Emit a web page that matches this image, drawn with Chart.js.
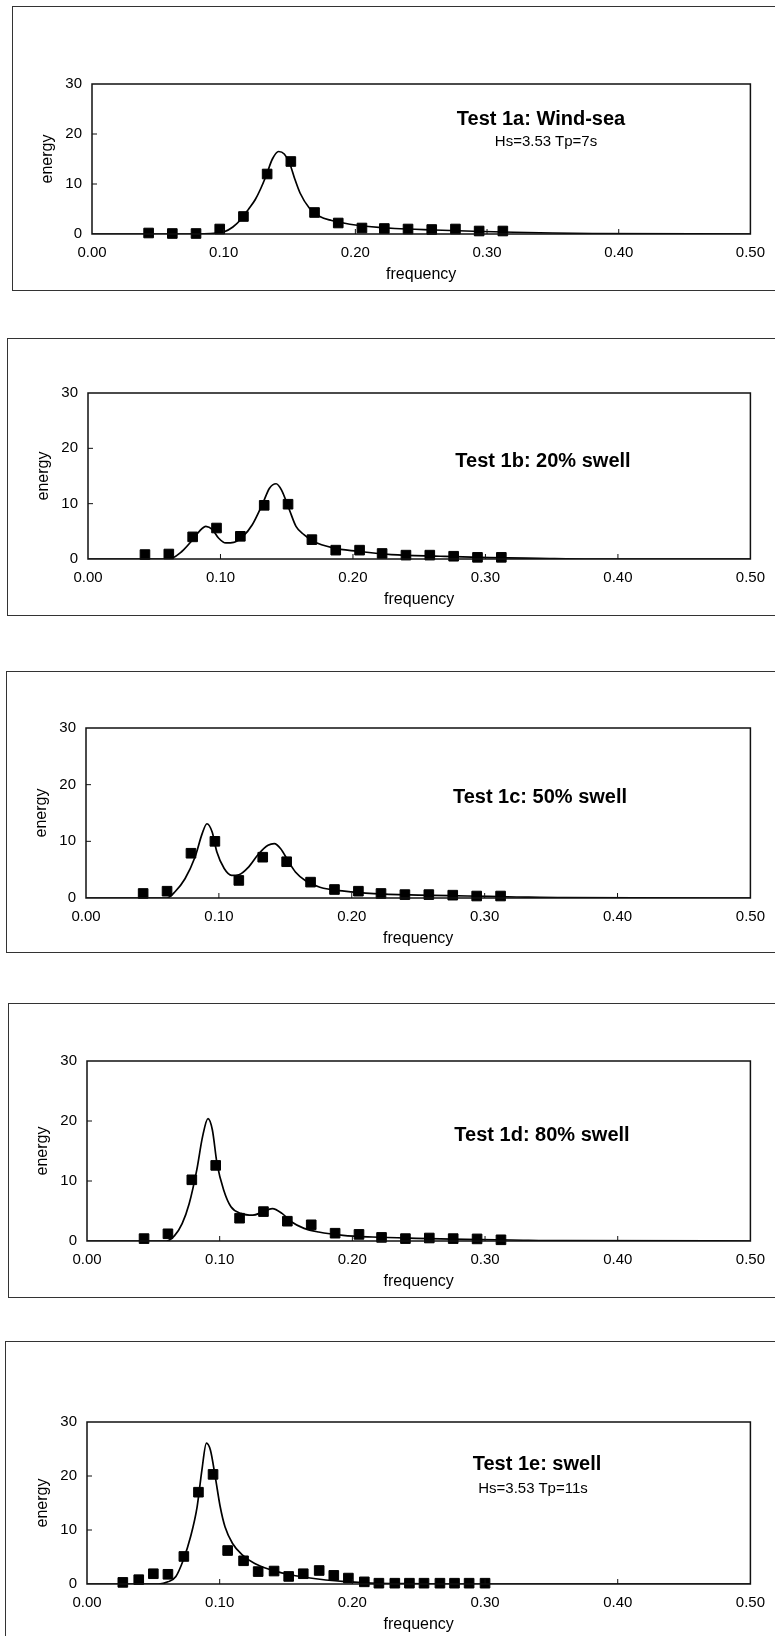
<!DOCTYPE html>
<html>
<head>
<meta charset="utf-8">
<script src="https://cdn.jsdelivr.net/npm/chart.js@4.4.1/dist/chart.umd.min.js"></script>
<style>
  html, body { margin: 0; padding: 0; background: #fff; }
  body { width: 775px; height: 1636px; position: relative; overflow: hidden; font-family: "Liberation Sans", Arial, sans-serif; }
  .frame { position: absolute; border: 1.5px solid #333; box-sizing: border-box; }
  .panel-canvas { position: absolute; left: 0; }
  .note { position: absolute; transform: translate(-50%, -50%); white-space: nowrap; color: #000; }
  .note.title { font-weight: bold; font-size: 20px; }
  .note.sub { font-size: 15px; }
</style>
</head>
<body>
<script>
// Measured spectra (squares) - tests 1a..1d share the same frequency bins
const binFreq = [0.043, 0.061, 0.079, 0.097, 0.115, 0.133, 0.151, 0.169, 0.187, 0.205, 0.222, 0.240, 0.258, 0.276, 0.294, 0.312];
const energy1a = [0.2, 0.1, 0.1, 1.0, 3.5, 12.0, 14.5, 4.3, 2.2, 1.2, 1.1, 1.0, 0.9, 1.0, 0.6, 0.6];
const energy1b = [0.8, 0.9, 4.0, 5.6, 4.1, 9.7, 9.9, 3.5, 1.6, 1.6, 1.0, 0.7, 0.7, 0.5, 0.3, 0.3];
const energy1c = [0.8, 1.2, 7.9, 10.0, 3.1, 7.2, 6.4, 2.8, 1.5, 1.2, 0.8, 0.6, 0.6, 0.5, 0.35, 0.35];
const energy1d = [0.4, 1.2, 10.2, 12.6, 3.8, 4.9, 3.3, 2.7, 1.3, 1.1, 0.6, 0.4, 0.5, 0.4, 0.35, 0.2];

const binFreq1e = [0.027, 0.039, 0.050, 0.061, 0.073, 0.084, 0.095, 0.106, 0.118, 0.129, 0.141, 0.152, 0.163,
    0.175, 0.186, 0.197, 0.209, 0.220, 0.232, 0.243, 0.254, 0.266, 0.277, 0.288, 0.300];
const energy1e = [0.3, 0.8, 1.9, 1.8, 5.1, 17.0, 20.3, 6.2, 4.3, 2.3, 2.4, 1.4, 1.9, 2.5, 1.6, 1.1, 0.4,
    0.15, 0.15, 0.15, 0.15, 0.15, 0.15, 0.15, 0.15];

// Target spectra (solid curves)
const curveFreq1a = [0, 0.08, 0.09, 0.10, 0.107, 0.113, 0.119, 0.124, 0.128, 0.132, 0.137, 0.1417, 0.146, 0.150,
    0.154, 0.158, 0.165, 0.173, 0.182, 0.191, 0.20, 0.21, 0.23, 0.26, 0.29, 0.32, 0.35, 0.38, 0.50];
const curveEnergy1a = [0, 0, 0.1, 0.4, 1.4, 2.9, 5.0, 6.9, 9.0, 11.5, 15.0, 16.5, 16.0, 14.2,
    11.0, 8.2, 5.2, 3.5, 2.7, 2.2, 1.8, 1.5, 1.1, 0.8, 0.55, 0.35, 0.2, 0.1, 0];

const curveFreq1b = [0, 0.061, 0.071, 0.078, 0.084, 0.089, 0.094, 0.0985, 0.104, 0.110, 0.117, 0.124, 0.132, 0.137,
    0.142, 0.146, 0.152, 0.157, 0.163, 0.170, 0.185, 0.203, 0.229, 0.266, 0.303, 0.34, 0.38, 0.50];
const curveEnergy1b = [0, 0, 1.4, 3.2, 5.0, 5.9, 5.3, 3.8, 2.9, 3.0, 4.1, 6.2, 10.1, 12.8,
    13.6, 12.5, 8.9, 5.9, 4.4, 3.2, 2.0, 1.4, 0.8, 0.5, 0.25, 0.12, 0, 0];

const curveFreq1c = [0, 0.061, 0.067, 0.0745, 0.082, 0.0875, 0.091, 0.095, 0.0985, 0.104, 0.1096, 0.115, 0.1225,
    0.130, 0.137, 0.1417, 0.1465, 0.152, 0.1576, 0.165, 0.176, 0.1945, 0.2166, 0.25, 0.287, 0.324, 0.36, 0.50];
const curveEnergy1c = [0, 0, 1.1, 3.4, 7.2, 11.4, 13.1, 11.6, 8.1, 5.2, 4.0, 4.1, 5.5,
    7.8, 9.3, 9.6, 8.7, 6.6, 4.6, 3.1, 1.9, 1.2, 0.76, 0.5, 0.35, 0.18, 0.05, 0];

const curveFreq1d = [0, 0.060, 0.066, 0.0717, 0.077, 0.0827, 0.0871, 0.0912, 0.0945, 0.098, 0.103, 0.1085, 0.116,
    0.125, 0.132, 0.1397, 0.147, 0.154, 0.1636, 0.1746, 0.193, 0.215, 0.248, 0.285, 0.32, 0.358, 0.50];
const curveEnergy1d = [0, 0, 0.9, 2.9, 6.2, 11.8, 17.4, 20.4, 18.5, 12.9, 8.5, 5.7, 4.6,
    4.3, 4.8, 5.4, 4.6, 3.2, 2.1, 1.5, 0.95, 0.67, 0.45, 0.28, 0.17, 0.05, 0];

const curveFreq1e = [0, 0.054, 0.061, 0.067, 0.0725, 0.078, 0.083, 0.0866, 0.090, 0.093, 0.0967, 0.1004, 0.104,
    0.1097, 0.117, 0.1264, 0.1375, 0.1506, 0.1654, 0.180, 0.195, 0.214, 0.24, 0.27, 0.50];
const curveEnergy1e = [0, 0, 0.4, 1.4, 4.4, 8.7, 14.3, 21.1, 26.1, 24.8, 19.8, 14.3, 10.6,
    7.5, 5.4, 3.8, 2.7, 1.85, 1.2, 0.74, 0.43, 0.18, 0.06, 0, 0];

// Axis ticks
const freqTicks = [0, 0.1, 0.2, 0.3, 0.4, 0.5];
const energyTicks = [0, 10, 20, 30];

// Page layout of each panel: frame [left, top, bottom], plot area [left, right, top, bottom]
const panels = [
    { frame: [12, 6, 291], plot: [92, 755, 84, 234], title: 'Test 1a: Wind-sea', titleAt: [541, 118],
      sub: 'Hs=3.53 Tp=7s', subAt: [546, 140], freq: binFreq, energy: energy1a, cf: curveFreq1a, ce: curveEnergy1a },
    { frame: [7, 338, 616], plot: [88, 761, 393, 559], title: 'Test 1b: 20% swell', titleAt: [543, 460],
      freq: binFreq, energy: energy1b, cf: curveFreq1b, ce: curveEnergy1b },
    { frame: [6, 671, 953], plot: [86, 756, 728, 898], title: 'Test 1c: 50% swell', titleAt: [540, 796],
      freq: binFreq, energy: energy1c, cf: curveFreq1c, ce: curveEnergy1c },
    { frame: [8, 1003, 1298], plot: [87, 760, 1061, 1241], title: 'Test 1d: 80% swell', titleAt: [542, 1134],
      freq: binFreq, energy: energy1d, cf: curveFreq1d, ce: curveEnergy1d },
    { frame: [5, 1341, 1660], plot: [87, 752, 1422, 1584], title: 'Test 1e: swell', titleAt: [537, 1463],
      sub: 'Hs=3.53 Tp=11s', subAt: [533, 1487], freq: binFreq1e, energy: energy1e, cf: curveFreq1e, ce: curveEnergy1e }
];

const FONT = '"Liberation Sans", Arial, sans-serif';
const PAGE_W = 775;
const AXIS_BELOW = 50;

// plot box plus small inward tick marks
const plotBoxPlugin = {
    id: 'plotBox',
    afterDraw(chart) {
        const { ctx, chartArea: a, scales } = chart;
        ctx.save();
        ctx.strokeStyle = '#111';
        ctx.lineWidth = 1.5;
        ctx.strokeRect(a.left, a.top, a.right - a.left, a.bottom - a.top);
        ctx.lineWidth = 1;
        ctx.beginPath();
        energyTicks.slice(1, -1).forEach(v => {
            const y = scales.y.getPixelForValue(v);
            ctx.moveTo(a.left, y);
            ctx.lineTo(a.left + 5, y);
        });
        freqTicks.slice(1, -1).forEach(v => {
            const x = scales.x.getPixelForValue(v);
            ctx.moveTo(x, a.bottom);
            ctx.lineTo(x, a.bottom - 5);
        });
        ctx.stroke();
        ctx.restore();
    }
};

function addNote(text, at, cls) {
    const el = document.createElement('div');
    el.className = 'note ' + cls;
    el.textContent = text;
    el.style.left = at[0] + 'px';
    el.style.top = at[1] + 'px';
    document.body.appendChild(el);
}

function renderSpectrumPanel(p) {
    const [fLeft, fTop, fBottom] = p.frame;
    const [pL, pR, pT, pB] = p.plot;

    const frame = document.createElement('div');
    frame.className = 'frame';
    frame.style.left = fLeft + 'px';
    frame.style.top = fTop + 'px';
    frame.style.width = (PAGE_W + 20 - fLeft) + 'px';
    frame.style.height = (fBottom - fTop) + 'px';
    document.body.appendChild(frame);

    const canvas = document.createElement('canvas');
    canvas.className = 'panel-canvas';
    canvas.width = PAGE_W;
    canvas.height = pB + AXIS_BELOW - fTop;
    canvas.style.top = fTop + 'px';
    document.body.appendChild(canvas);

    const squares = p.freq.map((f, i) => ({ x: f, y: p.energy[i] }));
    const curve = p.cf.map((f, i) => ({ x: f, y: p.ce[i] }));

    new Chart(canvas.getContext('2d'), {
        type: 'scatter',
        data: {
            datasets: [{
                data: squares,
                pointStyle: 'rect',
                pointRadius: 6.8,
                backgroundColor: '#000',
                borderColor: '#000',
                borderWidth: 1,
                showLine: false,
                clip: false
            }, {
                data: curve,
                showLine: true,
                pointRadius: 0,
                borderColor: '#000',
                borderWidth: 1.7,
                cubicInterpolationMode: 'monotone',
                fill: false
            }]
        },
        options: {
            responsive: false,
            animation: false,
            events: [],
            layout: { padding: { left: 0, right: PAGE_W - pR, top: pT - fTop, bottom: 0 } },
            plugins: { legend: { display: false }, tooltip: { enabled: false } },
            scales: {
                x: {
                    type: 'linear',
                    min: 0,
                    max: 0.5,
                    afterFit: s => { s.height = AXIS_BELOW; },
                    afterBuildTicks: s => { s.ticks = freqTicks.map(v => ({ value: v })); },
                    ticks: {
                        callback: v => v.toFixed(2),
                        font: { family: FONT, size: 15 },
                        color: '#000',
                        padding: 10,
                        maxRotation: 0
                    },
                    grid: { display: false, drawTicks: false },
                    border: { display: false },
                    title: {
                        display: true,
                        text: 'frequency',
                        color: '#000',
                        font: { family: FONT, size: 16 },
                        padding: { top: 1.4, bottom: 0 }
                    }
                },
                y: {
                    min: 0,
                    max: 30,
                    afterFit: s => { s.width = pL; },
                    afterBuildTicks: s => { s.ticks = energyTicks.map(v => ({ value: v })); },
                    ticks: {
                        font: { family: FONT, size: 15 },
                        color: '#000',
                        padding: 10
                    },
                    grid: { display: false, drawTicks: false },
                    border: { display: false },
                    title: {
                        display: true,
                        text: 'energy',
                        color: '#000',
                        font: { family: FONT, size: 16 },
                        padding: { top: pL - 44 - 9.6, bottom: 0 }
                    }
                }
            }
        },
        plugins: [plotBoxPlugin]
    });

    addNote(p.title, p.titleAt, 'title');
    if (p.sub) {
        addNote(p.sub, p.subAt, 'sub');
    }
}

panels.forEach(renderSpectrumPanel);
</script>
</body>
</html>
